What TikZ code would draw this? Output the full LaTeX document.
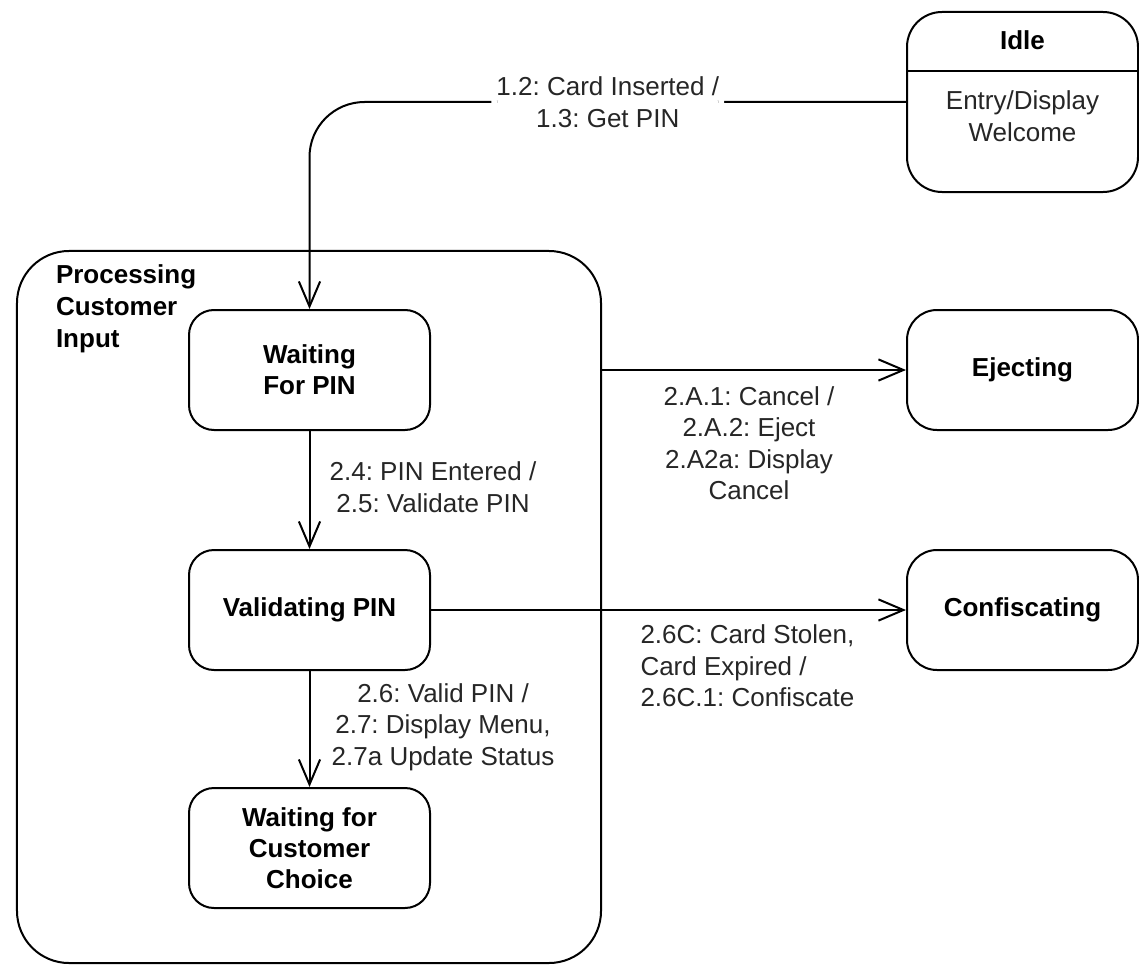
\documentclass[tikz,border=0pt]{standalone}
\usepackage{fontspec}
\setmainfont{Liberation Sans}
\usetikzlibrary{arrows.meta}
\frenchspacing
\begin{document}
\begin{tikzpicture}[x=0.4pt,y=-0.4pt,
  line width=0.8pt,
  >={Straight Barb[length=10pt,width=8.5pt]},
  every node/.style={font=\fontsize{10.4}{12.6}\selectfont},
  state/.style={draw, rounded corners=10pt, minimum width=96.4pt, minimum height=48pt,
                inner sep=0pt, align=center, font=\fontsize{10.4}{12.4}\selectfont\bfseries},
  sidestate/.style={state, rounded corners=12pt, minimum width=92.4pt},
  lbl/.style={align=center, inner sep=1pt, text=black!85}
]
\useasboundingbox (0,0) rectangle (1139,966);

% composite state
\node[draw, rounded corners=20.8pt, minimum width=233.6pt, minimum height=284.8pt, inner sep=0pt]
  (outer) at (309,607) {};
\node[anchor=west, align=left, inner sep=0pt, font=\fontsize{10.4}{12.8}\selectfont\bfseries]
  (outertitle) at (55,309) {Processing\\Customer\\Input};

% inner states
\node[state] (wfp) at (309.5,370) {Waiting\\For PIN};
\node[state] (vp)  at (309.5,610) {Validating PIN};
\node[state] (wcc) at (309.5,848) {Waiting for\\Customer\\Choice};

% states on the right
\node[sidestate, rounded corners=14pt, minimum height=72pt] (idle) at (1022.5,102) {};
\node[font=\fontsize{10.4}{12.4}\selectfont\bfseries] (idletitle) at (1022.5,40) {Idle};
\node[lbl] (idleentry) at (1022.5,116) {Entry/Display\\Welcome};
\draw (idle.west |- 0,71) -- (idle.east |- 0,71);

\node[sidestate] (ej)   at (1022.5,370) {Ejecting};
\node[sidestate] (conf) at (1022.5,610) {Confiscating};

% transitions
\draw[->, rounded corners=22pt] (idle.west) -| (wfp.north)
  node[pos=0.25, lbl, fill=white, inner sep=2pt] (t1) {1.2: Card Inserted /\\1.3: Get PIN};
\draw[->] (wfp.south) -- (vp.north);
\node[lbl] (t2) at (433,487) {2.4: PIN Entered /\\2.5: Validate PIN};
\draw[->] (vp.south) -- (wcc.north);
\node[lbl] (t3) at (443,727) {2.6: Valid PIN /\\2.7: Display Menu,\\2.7a Update Status};
\draw[->] (ej.west -| outer.east) -- (ej.west);
\node[lbl] (t4) at (749,443) {2.A.1: Cancel /\\2.A.2: Eject\\2.A2a: Display\\Cancel};
\draw[->] (vp.east) -- (conf.west);
\node[lbl, anchor=west, align=left] (t5) at (637,666) {2.6C: Card Stolen,\\Card Expired /\\2.6C.1: Confiscate};
\end{tikzpicture}
\end{document}
